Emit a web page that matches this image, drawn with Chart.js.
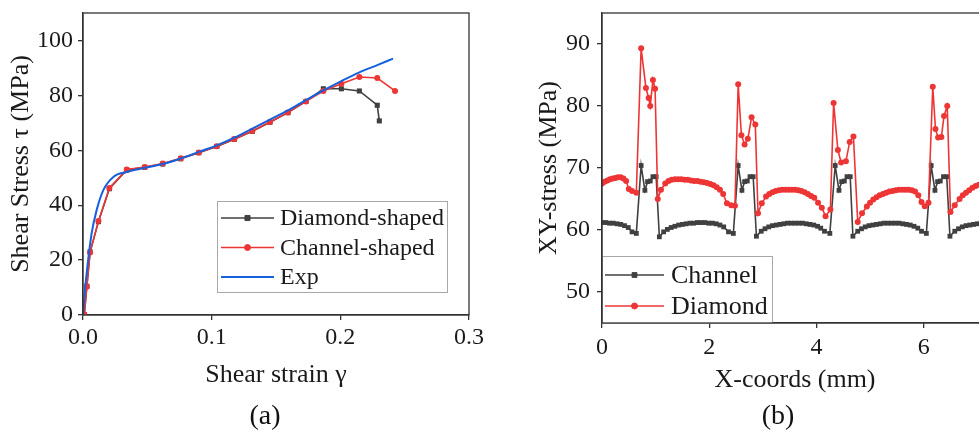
<!DOCTYPE html>
<html><head><meta charset="utf-8">
<script src="https://cdn.jsdelivr.net/npm/chart.js@4.4.1/dist/chart.umd.min.js"></script>
<style>
html,body{margin:0;padding:0;background:#fff;width:979px;height:433px;overflow:hidden;position:relative;}
#ca{position:absolute;left:0;top:0;}
#cb{position:absolute;left:490px;top:0;}
.lab{position:absolute;font-family:"Liberation Serif","Times New Roman",serif;font-size:28px;color:#111;transform:translate(-50%,-50%);white-space:nowrap;line-height:1;}
</style></head><body>
<canvas id="ca" width="490" height="433"></canvas>
<canvas id="cb" width="530" height="433"></canvas>
<div class="lab" style="left:265px;top:415px">(a)</div>
<div class="lab" style="left:778px;top:415px">(b)</div>
<script>
// ---------- Panel (a) data ----------
const strainDiamond = [0.001,0.003,0.0055,0.012,0.0205,0.034,0.048,0.062,0.076,0.090,0.104,0.1176,0.1316,0.1453,0.1593,0.1733,0.1868,0.2008,0.2148,0.2287,0.2303];
const stressDiamond = [0.2,10.5,23.0,34.0,46.0,52.8,53.8,55.0,56.9,59.1,61.4,64.0,66.9,70.2,73.7,77.8,82.4,82.4,81.6,76.4,70.7];
const strainChannel = [0.001,0.003,0.0055,0.012,0.0205,0.034,0.048,0.062,0.076,0.090,0.104,0.1176,0.1316,0.1453,0.1593,0.1733,0.1868,0.2008,0.2148,0.2287,0.2425];
const stressChannel = [0.2,10.3,22.8,34.2,46.3,53.0,53.9,55.2,57.1,59.2,61.5,64.1,67.0,70.3,73.8,77.8,81.6,84.2,86.7,86.3,81.6];
const strainExp = [0,0.0013,0.0034,0.0067,0.0106,0.0158,0.0236,0.034,0.048,0.062,0.076,0.090,0.104,0.1176,0.1316,0.1453,0.1593,0.1733,0.1868,0.2008,0.2148,0.2287,0.2410];
const stressExp = [0,7.9,17.6,29.7,38.2,45.5,50.3,52.1,53.6,55.0,57.0,59.4,61.8,64.6,67.9,71.2,74.5,78.3,81.8,85.2,88.4,91.0,93.4];
const xTicksA = [0,0.1,0.2,0.3];
const yTicksA = [0,20,40,60,80,100];
const labelsA = ['Diamond-shaped','Channel-shaped','Exp'];

// ---------- Panel (b) data ----------
const coordsChannel = [
 0.00,0.07,0.14,0.21,0.28,0.35,0.42,0.49,0.56,0.64,
 0.73,0.80,0.85,0.90,0.95,1.01,1.07,
 1.15,1.22,1.29,1.36,1.43,1.50,1.57,1.64,1.71,1.78,1.85,1.92,1.99,2.06,2.13,2.20,2.27,2.36,2.45,
 2.54,2.61,2.66,2.71,2.76,2.82,2.88,
 2.97,3.04,3.11,3.18,3.25,3.32,3.39,3.46,3.53,3.60,3.67,3.74,3.81,3.88,3.95,4.02,4.08,4.15,4.25,
 4.35,4.42,4.47,4.52,4.57,4.63,4.68,
 4.77,4.84,4.91,4.98,5.05,5.12,5.19,5.26,5.33,5.40,5.47,5.54,5.61,5.68,5.75,5.82,5.89,5.96,6.05,
 6.14,6.21,6.26,6.31,6.37,6.43,6.49,
 6.58,6.65,6.72,6.79,6.86,6.93,7.00,7.07,7.14,7.21];
const stressChannelB = [
 61.2,61.2,61.1,61.1,61.0,60.9,60.7,60.4,59.7,59.45,
 70.4,66.4,67.8,67.9,68.6,68.6,58.9,
 59.7,60.1,60.4,60.6,60.8,60.9,61.0,61.1,61.1,61.2,61.2,61.2,61.1,61.1,61.0,60.8,60.5,59.7,59.45,
 70.4,66.4,67.8,67.9,68.6,68.6,59.0,
 59.8,60.2,60.5,60.7,60.8,60.9,61.0,61.1,61.1,61.1,61.1,61.1,61.0,60.9,60.8,60.6,60.3,59.8,59.45,
 70.4,66.4,67.8,67.9,68.6,68.6,59.0,
 59.8,60.2,60.5,60.7,60.8,60.9,61.0,61.1,61.1,61.1,61.1,61.1,61.0,60.9,60.8,60.6,60.3,59.8,59.45,
 70.4,66.4,67.8,67.9,68.6,68.6,59.0,
 59.8,60.2,60.5,60.7,60.8,60.9,61.0,61.1,61.1,61.1];
const coordsDiamond = [
 0.00,0.05,0.10,0.15,0.20,0.25,0.30,0.35,0.40,0.45,0.50,0.56,0.64,
 0.73,0.82,0.87,0.90,0.95,0.99,1.04,1.10,1.18,
 1.24,1.30,1.36,1.42,1.48,1.54,1.60,1.66,1.72,1.78,1.84,1.90,1.96,2.02,2.08,2.14,2.20,2.26,2.33,2.41,2.48,
 2.54,2.60,2.66,2.72,2.79,2.86,2.91,2.98,3.06,
 3.12,3.18,3.24,3.30,3.36,3.42,3.48,3.54,3.60,3.66,3.72,3.78,3.84,3.90,3.96,4.03,4.10,4.17,4.26,
 4.32,4.40,4.46,4.55,4.62,4.69,4.77,4.85,4.94,
 5.00,5.06,5.12,5.18,5.24,5.30,5.36,5.42,5.48,5.54,5.60,5.66,5.72,5.78,5.84,5.90,5.96,6.02,6.09,
 6.17,6.22,6.27,6.33,6.38,6.44,6.50,6.58,6.67,
 6.73,6.79,6.85,6.91,6.97,7.03,7.09,7.15,7.21];
const stressDiamondB = [
 67.5,67.8,68.0,68.2,68.3,68.4,68.5,68.5,68.3,67.9,66.6,66.3,66.0,
 89.3,82.9,81.3,80.0,84.2,82.8,65.0,66.5,67.5,
 67.9,68.1,68.2,68.2,68.2,68.1,68.1,68.0,67.9,67.9,67.8,67.7,67.6,67.4,67.2,66.9,66.5,65.8,64.3,64.0,63.9,
 83.5,75.3,73.8,74.7,78.2,77.0,62.7,64.3,65.4,
 65.8,66.1,66.3,66.4,66.5,66.5,66.5,66.5,66.5,66.4,66.3,66.1,65.8,65.5,65.2,64.4,63.6,62.2,63.3,
 80.5,72.9,70.9,71.1,74.2,75.1,61.3,62.7,63.8,
 64.4,64.9,65.3,65.6,65.8,66.0,66.2,66.3,66.4,66.5,66.5,66.5,66.5,66.4,66.2,65.6,64.5,63.85,64.4,
 83.1,76.3,74.9,75.0,78.4,80.0,62.9,64.0,65.0,
 65.6,66.0,66.4,66.8,67.1,67.3,67.5,67.6,67.7];
const xTicksB = [0,2,4,6];
const yTicksB = [50,60,70,80,90];
const labelsB = ['Channel','Diamond'];

// ---------- styling ----------
const FONT = '"Liberation Serif","Times New Roman",serif';
const INK = '#1a1a1a';
const AXIS = '#333333';
const GRAY = '#404040';
const RED = '#EE3535';
const BLUE = '#1560DC';

function pts(xs, ys){ return xs.map((x,i)=>({x:x,y:ys[i]})); }

const frameLegend = {
  id:'frameLegend',
  afterDatasetsDraw(chart, args, o){
    const ctx = chart.ctx, a = chart.chartArea;
    ctx.save();
    const x0 = a.left + o.dx, y0 = a.top + o.dy;
    ctx.fillStyle = '#fff';
    ctx.fillRect(x0, y0, o.w, o.h);
    ctx.strokeStyle = '#a8a8a8'; ctx.lineWidth = 1;
    ctx.strokeRect(x0+0.5, y0+0.5, o.w, o.h);
    o.order.forEach((di,i)=>{
      const ds = chart.data.datasets[di];
      const y = y0 + o.firstRow + i*o.rowGap;
      ctx.strokeStyle = ds.borderColor; ctx.lineWidth = ds.borderWidth;
      ctx.beginPath(); ctx.moveTo(x0+o.l0, y); ctx.lineTo(x0+o.l1, y); ctx.stroke();
      if (ds.pointRadius > 0){
        ctx.fillStyle = ds.pointBackgroundColor; ctx.strokeStyle = ds.pointBorderColor; ctx.lineWidth = 1;
        Chart.helpers.drawPoint(ctx, {pointStyle: ds.pointStyle, radius: ds.pointRadius, rotation:0, borderWidth:1}, x0+(o.l0+o.l1)/2, y);
      }
      ctx.fillStyle = INK;
      ctx.font = o.fontSize + 'px ' + FONT;
      ctx.textBaseline = 'middle'; ctx.textAlign = 'left';
      ctx.fillText(ds.label, x0+o.tx, y+1);
    });
    ctx.restore();
  },
  afterDraw(chart){
    const ctx = chart.ctx, a = chart.chartArea;
    ctx.save();
    ctx.strokeStyle = AXIS; ctx.lineWidth = 1.3;
    ctx.strokeRect(a.left, a.top, a.right-a.left, a.bottom-a.top);
    ctx.restore();
  }
};

function axisCommon(){
  return {
    grid:{drawOnChartArea:false, drawTicks:true, tickLength:5, color:AXIS, lineWidth:1.3},
    border:{display:true, color:AXIS, width:1.3},
  };
}
function fitY(w){ return s=>{ s.width = w; s.paddingTop = 0; s.paddingBottom = 0; }; }
function fitX(h){ return s=>{ s.height = h; s.paddingLeft = 0; s.paddingRight = 0; }; }

// ---------- Chart (a) ----------
new Chart(document.getElementById('ca'), {
  type:'line',
  data:{datasets:[
    {label:labelsA[0], data:pts(strainDiamond, stressDiamond), borderColor:GRAY, backgroundColor:GRAY, borderWidth:1.6,
     pointStyle:'rect', pointRadius:3.6, pointBackgroundColor:GRAY, pointBorderColor:GRAY, pointBorderWidth:0, tension:0, order:3},
    {label:labelsA[1], data:pts(strainChannel, stressChannel), borderColor:RED, backgroundColor:RED, borderWidth:1.6,
     pointStyle:'circle', pointRadius:3, pointBackgroundColor:RED, pointBorderColor:RED, pointBorderWidth:0, tension:0, order:2},
    {label:labelsA[2], data:pts(strainExp, stressExp), borderColor:BLUE, backgroundColor:BLUE, borderWidth:2,
     pointRadius:0, pointBackgroundColor:BLUE, pointBorderColor:BLUE, cubicInterpolationMode:'monotone', order:1}
  ]},
  options:{
    responsive:false, animation:false, events:[],
    layout:{padding:{left:0, top:13, right:21, bottom:38}},
    plugins:{legend:{display:false}, tooltip:{enabled:false},
      frameLegend:{dx:134, dy:188, w:230, h:91, firstRow:17, rowGap:29.5, l0:4, l1:57, tx:63, fontSize:24, order:[0,1,2]}},
    scales:{
      x:Object.assign(axisCommon(), {type:'linear', min:0, max:0.3,
        afterBuildTicks:s=>{s.ticks = xTicksA.map(v=>({value:v}));},
        afterFit:fitX(80),
        ticks:{font:{family:FONT, size:24}, color:INK, padding:3, maxRotation:0, autoSkip:false, callback:v=>Number(v).toFixed(1)},
        title:{display:true, text:'Shear strain γ', font:{family:FONT, size:26}, color:INK, padding:{top:0, bottom:4}}}),
      y:Object.assign(axisCommon(), {type:'linear', min:0, max:110,
        afterBuildTicks:s=>{s.ticks = yTicksA.map(v=>({value:v}));},
        afterFit:fitY(83),
        ticks:{font:{family:FONT, size:24}, color:INK, padding:5},
        title:{display:true, text:'Shear Stress τ (MPa)', font:{family:FONT, size:26}, color:INK, padding:{top:6, bottom:0}}})
    }
  },
  plugins:[frameLegend]
});

// ---------- Chart (b) ----------
new Chart(document.getElementById('cb'), {
  type:'line',
  data:{datasets:[
    {label:labelsB[0], data:pts(coordsChannel, stressChannelB), borderColor:GRAY, backgroundColor:GRAY, borderWidth:1.6,
     pointStyle:'rect', pointRadius:3.4, pointBackgroundColor:GRAY, pointBorderColor:GRAY, pointBorderWidth:0, tension:0, order:2},
    {label:labelsB[1], data:pts(coordsDiamond, stressDiamondB), borderColor:RED, backgroundColor:RED, borderWidth:1.6,
     pointStyle:'circle', pointRadius:3, pointBackgroundColor:RED, pointBorderColor:RED, pointBorderWidth:0, tension:0, order:1}
  ]},
  options:{
    responsive:false, animation:false, events:[],
    layout:{padding:{left:0, top:13, right:32, bottom:30}},
    plugins:{legend:{display:false}, tooltip:{enabled:false},
      frameLegend:{dx:0, dy:243, w:170, h:67, firstRow:19, rowGap:31, l0:3, l1:62, tx:69, fontSize:26, order:[0,1]}},
    scales:{
      x:Object.assign(axisCommon(), {type:'linear', min:0, max:7.2,
        afterBuildTicks:s=>{s.ticks = xTicksB.map(v=>({value:v}));},
        afterFit:fitX(80),
        ticks:{font:{family:FONT, size:24}, color:INK, padding:5, maxRotation:0, autoSkip:false},
        title:{display:true, text:'X-coords (mm)', font:{family:FONT, size:26}, color:INK, padding:{top:0, bottom:7}}}),
      y:Object.assign(axisCommon(), {type:'linear', min:45, max:95,
        afterBuildTicks:s=>{s.ticks = yTicksB.map(v=>({value:v}));},
        afterFit:fitY(112),
        ticks:{font:{family:FONT, size:24}, color:INK, padding:7},
        title:{display:true, text:'XY-stress (MPa)', font:{family:FONT, size:26}, color:INK, padding:{top:44, bottom:0}}})
    }
  },
  plugins:[frameLegend]
});
</script>
</body></html>
